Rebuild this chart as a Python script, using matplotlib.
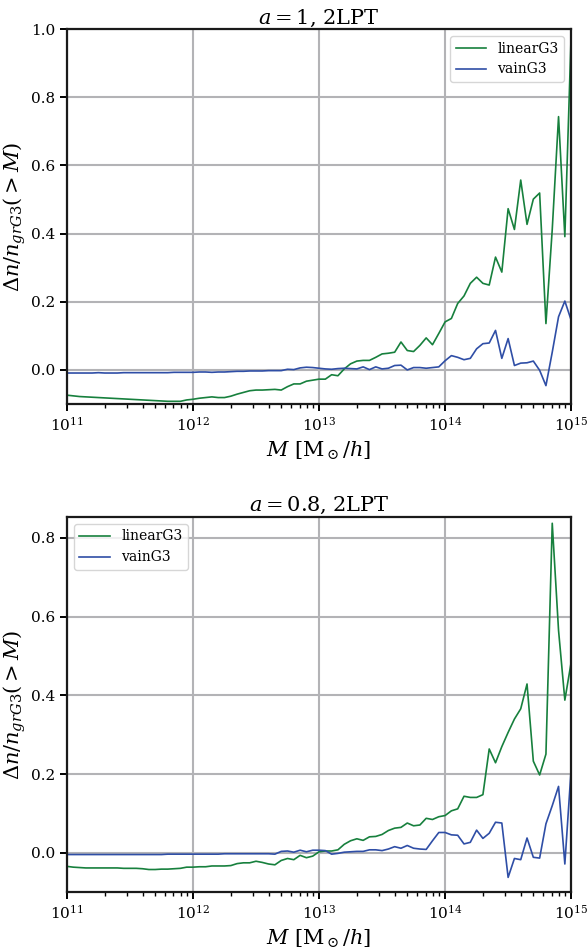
import numpy as np
import matplotlib
matplotlib.use('Agg')
import matplotlib.pyplot as plt

plt.rcParams['font.family'] = ['DejaVu Serif']
plt.rcParams['mathtext.fontset'] = 'dejavuserif'

# log10 of the mass bins, 20 per decade from 1e11 to 1e15
log_mass = np.linspace(11.0, 15.0, 81)
mass = 10 ** log_mass

# a = 1, 2LPT
top_linear = [
    -0.074, -0.076, -0.078, -0.079, -0.080, -0.081, -0.082, -0.083, -0.084, -0.085,
    -0.086, -0.087, -0.088, -0.089, -0.090, -0.091, -0.092, -0.092, -0.092, -0.088,
    -0.086, -0.083, -0.081, -0.079, -0.081, -0.081, -0.077, -0.071, -0.066, -0.061,
    -0.059, -0.059, -0.058, -0.057, -0.059, -0.049, -0.041, -0.041, -0.033, -0.030,
    -0.027, -0.027, -0.014, -0.017, 0.003, 0.018, 0.026, 0.028, 0.028, 0.037,
    0.047, 0.049, 0.052, 0.082, 0.057, 0.054, 0.072, 0.094, 0.074, 0.107,
    0.141, 0.151, 0.195, 0.217, 0.254, 0.272, 0.254, 0.249, 0.331, 0.287,
    0.473, 0.412, 0.557, 0.427, 0.501, 0.519, 0.136, 0.412, 0.743, 0.391,
    0.984]
top_vain = [
    -0.009, -0.009, -0.009, -0.009, -0.009, -0.008, -0.009, -0.009, -0.009, -0.008,
    -0.008, -0.008, -0.008, -0.008, -0.008, -0.008, -0.008, -0.007, -0.007, -0.007,
    -0.007, -0.006, -0.006, -0.007, -0.006, -0.006, -0.005, -0.004, -0.004, -0.003,
    -0.003, -0.003, -0.002, -0.002, -0.002, 0.002, 0.001, 0.006, 0.008, 0.007,
    0.005, 0.003, 0.002, 0.004, 0.005, 0.004, 0.003, 0.009, 0.001, 0.009,
    0.003, 0.005, 0.013, 0.014, 0.000, 0.007, 0.007, 0.005, 0.007, 0.009,
    0.027, 0.042, 0.037, 0.030, 0.034, 0.062, 0.077, 0.079, 0.116, 0.034,
    0.092, 0.013, 0.020, 0.021, 0.026, -0.001, -0.046, 0.052, 0.156, 0.202,
    0.146]

# a = 0.8, 2LPT
bot_linear = [
    -0.034, -0.036, -0.037, -0.038, -0.038, -0.038, -0.038, -0.038, -0.038, -0.039,
    -0.039, -0.039, -0.040, -0.042, -0.042, -0.041, -0.041, -0.040, -0.039, -0.036,
    -0.036, -0.035, -0.035, -0.033, -0.033, -0.033, -0.032, -0.027, -0.025, -0.025,
    -0.021, -0.024, -0.028, -0.030, -0.019, -0.014, -0.017, -0.006, -0.012, -0.008,
    0.003, 0.005, 0.005, 0.008, 0.022, 0.031, 0.036, 0.032, 0.041, 0.042,
    0.047, 0.057, 0.063, 0.065, 0.076, 0.069, 0.071, 0.088, 0.085, 0.092,
    0.095, 0.107, 0.112, 0.144, 0.141, 0.141, 0.148, 0.264, 0.229, 0.270,
    0.306, 0.340, 0.366, 0.429, 0.233, 0.198, 0.251, 0.837, 0.565, 0.388,
    0.484]
bot_vain = [
    -0.004, -0.004, -0.004, -0.004, -0.004, -0.004, -0.004, -0.004, -0.004, -0.004,
    -0.004, -0.004, -0.004, -0.004, -0.004, -0.004, -0.003, -0.003, -0.003, -0.003,
    -0.003, -0.003, -0.003, -0.003, -0.003, -0.002, -0.002, -0.002, -0.002, -0.002,
    -0.002, -0.002, -0.002, -0.003, 0.004, 0.005, 0.002, 0.007, 0.003, 0.007,
    0.007, 0.006, -0.003, -0.001, 0.002, 0.003, 0.004, 0.004, 0.008, 0.008,
    0.006, 0.010, 0.016, 0.012, 0.019, 0.012, 0.010, 0.009, 0.031, 0.052,
    0.052, 0.046, 0.045, 0.023, 0.027, 0.058, 0.037, 0.050, 0.078, 0.076,
    -0.062, -0.014, -0.017, 0.038, -0.011, -0.013, 0.074, 0.120, 0.169, -0.028,
    0.213]

panels = [
    ('$a=1$, 2LPT', top_linear, top_vain, (-0.1, 1.0),
     [0.0, 0.2, 0.4, 0.6, 0.8, 1.0], 'upper right'),
    ('$a=0.8$, 2LPT', bot_linear, bot_vain, (-0.099, 0.853),
     [0.0, 0.2, 0.4, 0.6, 0.8], 'upper left'),
]
green = '#17803d'
blue = '#2f4ea6'

fig = plt.figure(figsize=(5.87, 9.48), dpi=100)
boxes = [[0.114, 0.5738, 0.859, 0.3956], [0.114, 0.0591, 0.859, 0.3956]]

for box, (title, lin, vain, ylim, yticks, loc) in zip(boxes, panels):
    ax = fig.add_axes(box)
    ax.plot(mass, lin, color=green, lw=1.2, label='linearG3')
    ax.plot(mass, vain, color=blue, lw=1.2, label='vainG3')
    ax.set_xscale('log')
    ax.set_xlim(1e11, 1e15)
    ax.set_ylim(*ylim)
    ax.set_yticks(yticks)
    ax.grid(True, color='#b3b3b6', lw=1.5)
    ax.set_axisbelow(True)
    for s in ax.spines.values():
        s.set_linewidth(1.6)
        s.set_color('#1a1a1a')
    ax.tick_params(which='major', length=5, width=1.4, labelsize=11, direction='out')
    ax.tick_params(which='minor', length=3, width=1.0)
    ax.set_title(title, fontsize=15, pad=4)
    ax.set_xlabel('$M$ [M$_\\odot/h$]', fontsize=15)
    ax.set_ylabel('$\\Delta n/n_{grG3}(>M)$', fontsize=15, labelpad=2)
    ax.legend(loc=loc, fontsize=10, frameon=True, fancybox=True,
              edgecolor='#cccccc', handlelength=2.2)

fig.savefig('out.png', dpi=100)
